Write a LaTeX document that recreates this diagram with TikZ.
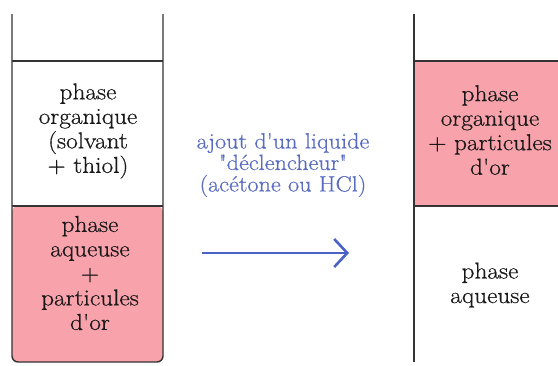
\documentclass[tikz,border=0pt]{standalone}
\usepackage{fontspec}
% straight quotes and apostrophes, slightly widened letters
\setmainfont{Latin Modern Roman}[Ligatures=TeXOff, FakeStretch=1.1, FakeBold=0.6]
\usetikzlibrary{arrows.meta}
\definecolor{goldpink}{HTML}{F8A2AB}
\definecolor{tubeline}{HTML}{333333}
\definecolor{labelblue}{HTML}{5A6CC0}
\definecolor{arrowblue}{HTML}{4A62C6}
\tikzset{
  wall/.style={draw=tubeline, line width=1.4pt},
  phasetext/.style={align=center, inner sep=0pt, font=\fontsize{23}{24.5}\selectfont, text=black!90},
  notetext/.style={align=center, inner sep=0pt, font=\fontsize{22}{21.5}\selectfont, text=labelblue},
}
\begin{document}
\begin{tikzpicture}[x=1pt,y=-1pt]
\useasboundingbox (0,0) rectangle (558,365);

% left tube: aqueous phase holding the gold particles
\fill[goldpink, rounded corners=6pt] (12,206) -- (12,362) -- (163,362) -- (163,206) -- cycle;
\draw[wall, rounded corners=6pt] (12,14) -- (12,362) -- (163,362) -- (163,14);
\draw[wall] (12,61) -- (163,61);
\draw[wall] (12,206) -- (163,206);

% right tube: the particles have moved to the organic phase
\fill[goldpink] (414,61) rectangle (558,206);
\draw[wall] (414,14) -- (414,362);
\draw[wall] (414,61) -- (558,61);
\draw[wall] (414,206) -- (558,206);

% phase labels
\node[phasetext] (orgL) at (88,131) {phase\\organique\\(solvant\\+ thiol)};
\node[phasetext] (aqL) at (90,273) {phase\\aqueuse\\+\\particules\\d'or};
\node[phasetext] (orgR) at (490,130) {phase\\organique\\+ particules\\d'or};
\node[phasetext] (aqR) at (490,285) {phase\\aqueuse};

% reaction step
\node[notetext] (trigger) at (283,165) {ajout d'un liquide\\"déclencheur"\\(acétone ou HCl)};
\coordinate (arrowstart) at (202,253);
\coordinate (arrowend) at (349,253);
\draw[arrowblue, line width=2.8pt, -{Straight Barb[length=13pt,width=28pt,line width=2.6pt]}] (arrowstart) -- (arrowend);
\end{tikzpicture}
\end{document}
